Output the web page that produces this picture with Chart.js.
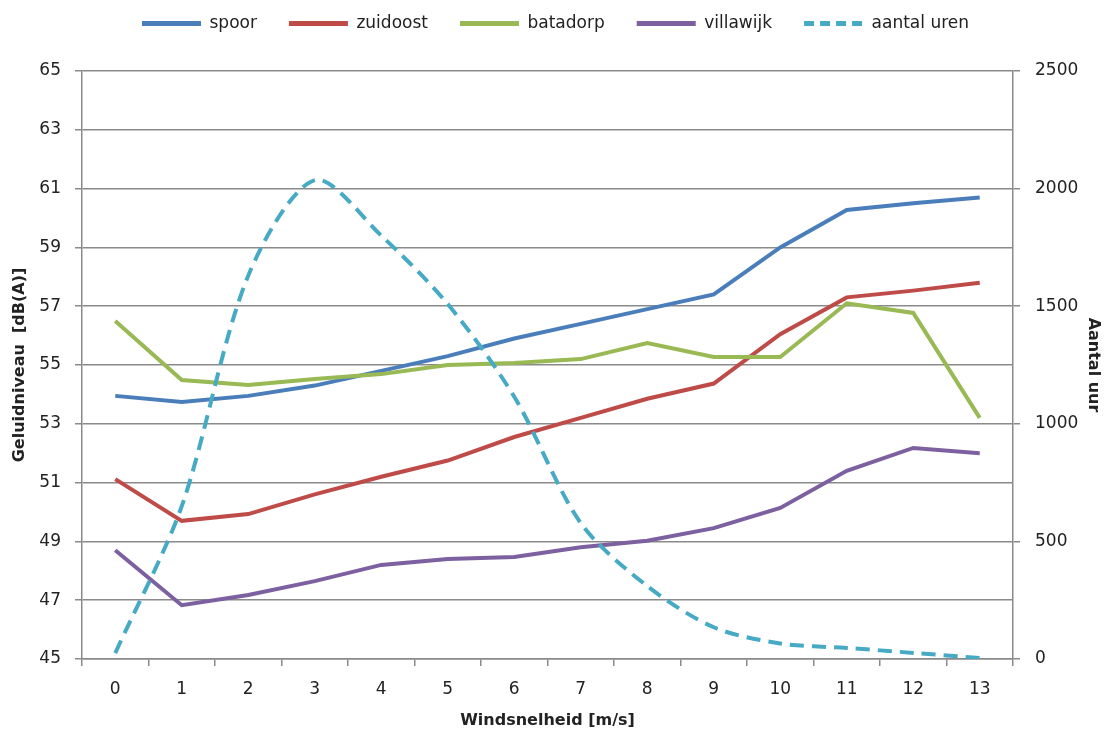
<!DOCTYPE html>
<html>
<head>
<meta charset="utf-8">
<script src="https://cdn.jsdelivr.net/npm/chart.js@4"></script>
<style>
  html, body { margin: 0; padding: 0; background: #fff; }
  #wrap { width: 1111px; height: 733px; }
</style>
</head>
<body>
<div id="wrap"><canvas id="windChart" width="1111" height="733"></canvas></div>
<script>
const windspeeds = ['0', '1', '2', '3', '4', '5', '6', '7', '8', '9', '10', '11', '12', '13'];
const spoor = [53.95, 53.74, 53.95, 54.3, 54.8, 55.3, 55.9, 56.4, 56.9, 57.4, 59.0, 60.27, 60.5, 60.7];
const zuidoost = [51.12, 49.7, 49.93, 50.6, 51.2, 51.75, 52.55, 53.2, 53.85, 54.37, 56.05, 57.3, 57.53, 57.8];
const batadorp = [56.5, 54.49, 54.32, 54.52, 54.69, 55.0, 55.07, 55.2, 55.75, 55.27, 55.27, 57.1, 56.77, 53.2];
const villawijk = [48.7, 46.83, 47.18, 47.65, 48.2, 48.4, 48.47, 48.8, 49.02, 49.45, 50.14, 51.4, 52.18, 52.0];
const aantalUren = [25, 650, 1630, 2036, 1800, 1509, 1115, 578, 310, 135, 66, 47, 26, 4];

const fontFamily = '"DejaVu Sans", Verdana, sans-serif';
const textColor = '#222';
const gridColor = '#8a8a8a';

// keep legend bottom fixed so the plot starts where the reference does
const legendSpace = {
  id: 'legendSpace',
  beforeInit(chart) {
    const fit = chart.legend.fit;
    chart.legend.fit = function () {
      fit.bind(chart.legend)();
      this.height = 88;
    };
  }
};

const ctx = document.getElementById('windChart').getContext('2d');

const windChart = new Chart(ctx, {
  type: 'line',
  data: {
    labels: windspeeds,
    datasets: [
      { label: 'spoor', data: spoor, borderColor: '#4a7ebb', yAxisID: 'y', order: 5 },
      { label: 'zuidoost', data: zuidoost, borderColor: '#be4b48', yAxisID: 'y', order: 4 },
      { label: 'batadorp', data: batadorp, borderColor: '#98b954', yAxisID: 'y', order: 3 },
      { label: 'villawijk', data: villawijk, borderColor: '#7d60a0', yAxisID: 'y', order: 2 },
      { label: 'aantal uren', data: aantalUren, borderColor: '#46aac5', yAxisID: 'y1', order: 1,
        borderDash: [14, 8], tension: 0.3 }
    ]
  },
  options: {
    responsive: false,
    animation: false,
    layout: { padding: { top: -17, left: 0, right: 0, bottom: 0 } },
    elements: {
      line: { borderWidth: 4, tension: 0, fill: false, borderCapStyle: 'butt' },
      point: { radius: 0, hoverRadius: 0 }
    },
    plugins: {
      tooltip: { enabled: false },
      legend: {
        position: 'top',
        labels: {
          color: textColor,
          font: { family: fontFamily, size: 17 },
          usePointStyle: true,
          pointStyleWidth: 59,
          boxHeight: 10,
          padding: 32,
          generateLabels(chart) {
            return chart.data.datasets.map((ds, i) => ({
              text: ds.label,
              fillStyle: ds.borderColor,
              strokeStyle: ds.borderColor,
              lineWidth: 5,
              lineDash: ds.borderDash ? [10, 6] : [],
              lineCap: 'butt',
              pointStyle: 'line',
              rotation: 0,
              hidden: false,
              fontColor: textColor,
              datasetIndex: i
            }));
          }
        }
      }
    },
    scales: {
      x: {
        offset: true,
        grid: { offset: true, drawOnChartArea: false, drawTicks: true, tickLength: 7, color: gridColor, lineWidth: 1.5 },
        border: { color: gridColor, width: 1.5 },
        ticks: { color: textColor, font: { family: fontFamily, size: 17 }, padding: 13, maxRotation: 0, autoSkip: false },
        title: { display: true, text: 'Windsnelheid [m/s]', color: textColor,
                 font: { family: fontFamily, size: 16, weight: 'bold' }, padding: { top: 0, bottom: 3 } },
        afterFit(scale) { scale.height = 74; }
      },
      y: {
        position: 'left',
        min: 45, max: 65,
        ticks: { stepSize: 2, color: textColor, font: { family: fontFamily, size: 17 }, padding: 14 },
        grid: { color: gridColor, lineWidth: 1.5, tickLength: 7 },
        border: { color: gridColor, width: 1.5 },
        title: { display: true, text: 'Geluidniveau  [dB(A)]', color: textColor,
                 font: { family: fontFamily, size: 16, weight: 'bold' }, padding: { top: 10, bottom: 0 } },
        afterFit(scale) { scale.width = 82; }
      },
      y1: {
        position: 'right',
        min: 0, max: 2500,
        ticks: { stepSize: 500, color: textColor, font: { family: fontFamily, size: 17 }, padding: 15,
                 callback: (v) => String(v) },
        grid: { drawOnChartArea: false, color: gridColor, lineWidth: 1.5, tickLength: 7 },
        border: { color: gridColor, width: 1.5 },
        title: { display: true, text: 'Aantal uur', color: textColor,
                 font: { family: fontFamily, size: 16, weight: 'bold' }, padding: { top: 8, bottom: 0 } },
        afterFit(scale) { scale.width = 98; }
      }
    }
  },
  plugins: [legendSpace]
});
</script>
</body>
</html>
